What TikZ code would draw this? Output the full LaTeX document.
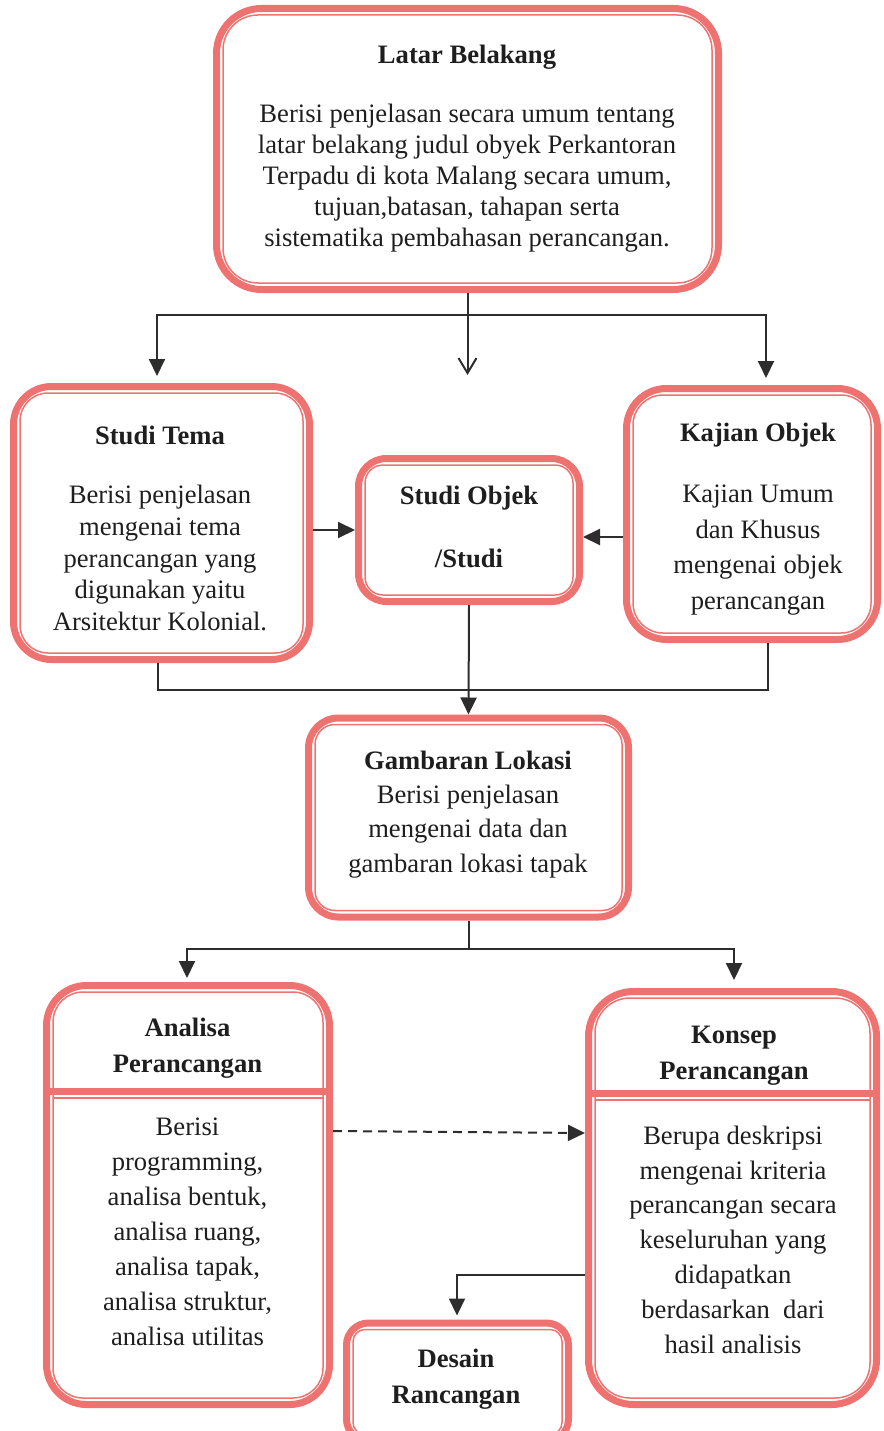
\documentclass[tikz,border=0pt]{standalone}
\usepackage{fontspec}
\setmainfont{Liberation Serif}
\usetikzlibrary{arrows.meta}
\definecolor{boxred}{RGB}{237,114,112}
\definecolor{ink}{RGB}{45,45,45}
\definecolor{txt}{RGB}{30,30,30}

\begin{document}
\begin{tikzpicture}[x=1pt,y=-1pt,
  frame/.style={draw=boxred, line width=7pt, rounded corners=#1, fill=white, inner sep=0pt},
  innerline/.style={draw=boxred, line width=1.5pt},
  divider/.style={draw=boxred, line width=7pt},
  conn/.style={draw=ink, line width=2pt},
  arr/.style={conn, -{Triangle[length=17pt,width=16pt]}},
  openarr/.style={conn, -{Straight Barb[length=15pt,width=18pt,line width=2pt]}},
  title/.style={text=txt, font=\fontsize{26.6}{36}\selectfont\bfseries, align=center, inner sep=0pt},
  body/.style={text=txt, font=\fontsize{26.6}{#1}\selectfont, align=center, inner sep=0pt},
]
\useasboundingbox (0,0) rectangle (883,1431);

% boxes
\node[frame=45, minimum width=502, minimum height=281] (latar)   at (467.5,149) {};
\node[frame=38, minimum width=296, minimum height=273] (tema)    at (161.5,523) {};
\node[frame=28, minimum width=221, minimum height=143] (objek)   at (469,530) {};
\node[frame=40, minimum width=251, minimum height=251] (kajian)  at (752,514) {};
\node[frame=30, minimum width=320, minimum height=199] (lokasi)  at (468.5,817.5) {};
\node[frame=40, minimum width=283, minimum height=419] (analisa) at (188,1195) {};
\node[frame=45, minimum width=288, minimum height=413] (konsep)  at (732.5,1198) {};
\node[frame=22, minimum width=222, minimum height=118] (desain)  at (457.5,1382) {};

% thin inner frames
\foreach \n/\r in {latar/35, tema/28, objek/18, kajian/30, lokasi/20, analisa/30, konsep/35, desain/12}
  \draw[innerline, rounded corners=\r pt] ([shift={(10pt,-10pt)}]\n.north west) rectangle ([shift={(-10pt,10pt)}]\n.south east);

% header dividers
\draw[divider] ([yshift=104pt]analisa.west) -- ([yshift=104pt]analisa.east);
\draw[innerline] ([shift={(10pt,97pt)}]analisa.west) -- ([shift={(-10pt,97pt)}]analisa.east);
\draw[divider] ([yshift=105pt]konsep.west) -- ([yshift=105pt]konsep.east);
\draw[innerline] ([shift={(10pt,98pt)}]konsep.west) -- ([shift={(-10pt,98pt)}]konsep.east);

% texts
\node[title] (latarT) at (467,57) {Latar Belakang};
\node[body=31] (latarB) at (467,178.5) {Berisi penjelasan secara umum tentang\\latar belakang judul obyek Perkantoran\\Terpadu di kota Malang secara umum,\\tujuan,batasan, tahapan serta\\sistematika pembahasan perancangan.};

\node[title] (temaT) at (160,435) {Studi Tema};
\node[body=31.7] (temaB) at (160,558) {Berisi penjelasan\\mengenai tema\\perancangan yang\\digunakan yaitu\\Arsitektur Kolonial.};

\node[title] (objekT) at (469,498) {Studi Objek};
\node[title] (objekS) at (469,558) {/Studi};

\node[title] (kajianT) at (758,435) {Kajian Objek};
\node[body=35.7] (kajianB) at (758,550) {Kajian Umum\\dan Khusus\\mengenai objek\\perancangan};

\node[title] (lokasiT) at (468,760) {Gambaran Lokasi};
\node[body=34.5] (lokasiB) at (468,831.5) {Berisi penjelasan\\mengenai data dan\\gambaran lokasi tapak};

\node[title] (analisaT) at (187.5,1048) {Analisa\\Perancangan};
\node[body=35] (analisaB) at (187.5,1232) {Berisi\\programming,\\analisa bentuk,\\analisa ruang,\\analisa tapak,\\analisa struktur,\\analisa utilitas};

\node[title] (konsepT) at (734,1055.5) {Konsep\\Perancangan};
\node[body=34.8] (konsepB) at (733,1239.5) {Berupa deskripsi\\mengenai kriteria\\perancangan secara\\keseluruhan yang\\didapatkan\\berdasarkan~ dari\\hasil analisis};

\node[title] (desainT) at (456,1379.5) {Desain\\Rancangan};

% connectors
\draw[conn] (latar.south) -- ++(0,22) coordinate (split1);
\draw[arr] (split1) -| ([shift={(-4.5pt,7pt)}]tema.north);
\draw[arr] (split1) -| ([shift={(14pt,7pt)}]kajian.north);
\draw[openarr] (split1) -- ++(0,60) coordinate (midtip);

\draw[arr] (tema.east |- objek.west) -- (objek.west);
\draw[arr] ([yshift=-7pt]objek.east -| kajian.west) -- ([yshift=-7pt]objek.east);

\draw[arr] (objek.south) -- (lokasi.north);
\draw[conn] ([xshift=-4pt]tema.south) -- ++(0,27) -| ([xshift=16pt]kajian.south);

\draw[conn] (lokasi.south) -- ++(0,28) coordinate (split2);
\draw[arr] (split2) -| ([shift={(-1pt,4pt)}]analisa.north);
\draw[arr] (split2) -| ([shift={(1.5pt,8pt)}]konsep.north);

\draw[arr, dashed, dash pattern=on 9pt off 6pt] ([yshift=64pt]analisa.east) -- ([yshift=65pt]konsep.west);

\draw[arr] ([yshift=-77pt]konsep.west) -| ([shift={(-0.5pt,4pt)}]desain.north);
\end{tikzpicture}
\end{document}
